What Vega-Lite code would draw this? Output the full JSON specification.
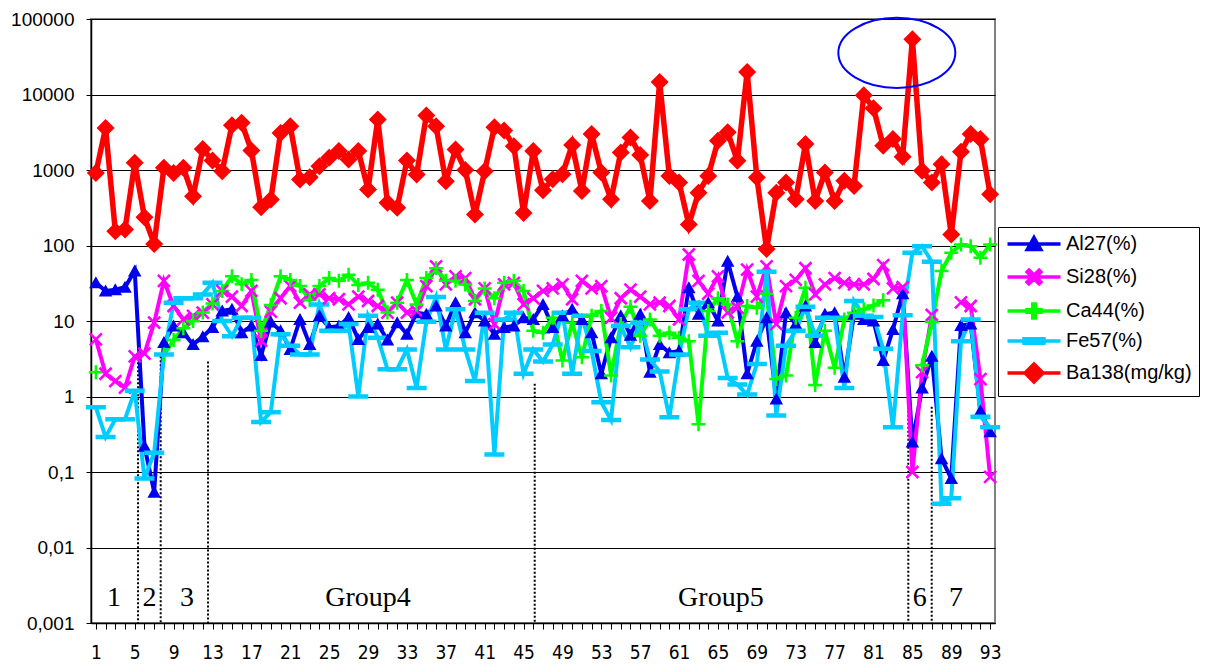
{
  "$schema": "https://vega.github.io/schema/vega-lite/v6.json",
  "width": 904,
  "height": 604,
  "autosize": {"type": "none"},
  "padding": {"left": 91, "top": 19, "right": 217, "bottom": 42},
  "background": "white",
  "config": {
    "view": {"stroke": "#808080", "strokeWidth": 2},
    "font": "Liberation Sans"
  },
  "data": {
    "values": [
      {"n": 1, "Al": 32, "Si": 5.7, "Ca": 2.1, "Fe": 0.72, "Ba": 915},
      {"n": 2, "Al": 25, "Si": 2.0, "Ca": null, "Fe": 0.29, "Ba": 3600},
      {"n": 3, "Al": 26, "Si": 1.6, "Ca": null, "Fe": 0.5, "Ba": 155},
      {"n": 4, "Al": 28, "Si": 1.31, "Ca": null, "Fe": 0.5, "Ba": 163},
      {"n": 5, "Al": 46, "Si": 3.4, "Ca": null, "Fe": 1.19, "Ba": 1245},
      {"n": 6, "Al": 0.22, "Si": 3.7, "Ca": null, "Fe": 0.082, "Ba": 237},
      {"n": 7, "Al": 0.054, "Si": 9.5, "Ca": null, "Fe": 0.18, "Ba": 105},
      {"n": 8, "Al": 5.2, "Si": 34, "Ca": 3.6, "Fe": 3.6, "Ba": 1070},
      {"n": 9, "Al": 8.6, "Si": 15.8, "Ca": 5.6, "Fe": 17.5, "Ba": 915},
      {"n": 10, "Al": 7.0, "Si": 10.5, "Ca": 8, "Fe": 20, "Ba": 1070},
      {"n": 11, "Al": 4.9, "Si": 11.7, "Ca": 10, "Fe": 20, "Ba": 450},
      {"n": 12, "Al": 6.2, "Si": 12.9, "Ca": 13, "Fe": 22.5, "Ba": 1900},
      {"n": 13, "Al": 8.2, "Si": 16.6, "Ca": 17, "Fe": 32, "Ba": 1335},
      {"n": 14, "Al": 13.6, "Si": 25, "Ca": 25, "Fe": 10, "Ba": 965},
      {"n": 15, "Al": 14.3, "Si": 21, "Ca": 39, "Fe": 6.3, "Ba": 3925},
      {"n": 16, "Al": 7.0, "Si": 15.8, "Ca": 30.6, "Fe": 11, "Ba": 4220},
      {"n": 17, "Al": 8.6, "Si": 25, "Ca": 35, "Fe": 11, "Ba": 1810},
      {"n": 18, "Al": 3.5, "Si": 5.5, "Ca": 7.4, "Fe": 0.46, "Ba": 322},
      {"n": 19, "Al": 9.7, "Si": 13.3, "Ca": 16.3, "Fe": 0.62, "Ba": 407},
      {"n": 20, "Al": 7.4, "Si": 20, "Ca": 39, "Fe": 6.7, "Ba": 3100},
      {"n": 21, "Al": 4.2, "Si": 29, "Ca": 35, "Fe": 4.7, "Ba": 3800},
      {"n": 22, "Al": 10.5, "Si": 17.5, "Ca": 29, "Fe": 3.6, "Ba": 748},
      {"n": 23, "Al": 4.9, "Si": 22.5, "Ca": 19, "Fe": 3.6, "Ba": 803},
      {"n": 24, "Al": 11.7, "Si": 22.5, "Ca": 29, "Fe": 16.6, "Ba": 1125},
      {"n": 25, "Al": 8.2, "Si": 20, "Ca": 37, "Fe": 7.4, "Ba": 1450},
      {"n": 26, "Al": 8.6, "Si": 19.4, "Ca": 34, "Fe": 7.4, "Ba": 1780},
      {"n": 27, "Al": 11.1, "Si": 16.6, "Ca": 41, "Fe": 9.1, "Ba": 1380},
      {"n": 28, "Al": 5.7, "Si": 21, "Ca": 30, "Fe": 1.0, "Ba": 1780},
      {"n": 29, "Al": 8.2, "Si": 18.4, "Ca": 32, "Fe": 11.7, "Ba": 552},
      {"n": 30, "Al": 9.1, "Si": 15.8, "Ca": 26, "Fe": 6.0, "Ba": 4670},
      {"n": 31, "Al": 5.6, "Si": 12.9, "Ca": 13, "Fe": 2.3, "Ba": 367},
      {"n": 32, "Al": 9.5, "Si": 17.5, "Ca": 17.5, "Fe": 2.3, "Ba": 316},
      {"n": 33, "Al": 6.7, "Si": 12.9, "Ca": 35, "Fe": 4.2, "Ba": 1335},
      {"n": 34, "Al": 12.9, "Si": 13.6, "Ca": 16.6, "Fe": 1.3, "Ba": 870},
      {"n": 35, "Al": 12.3, "Si": 29, "Ca": 37, "Fe": 9.8, "Ba": 5260},
      {"n": 36, "Al": 15.8, "Si": 53, "Ca": 50, "Fe": 20.8, "Ba": 3800},
      {"n": 37, "Al": 8.6, "Si": 30.5, "Ca": 34, "Fe": 4.2, "Ba": 710},
      {"n": 38, "Al": 17.5, "Si": 39, "Ca": 34, "Fe": 14.3, "Ba": 1870},
      {"n": 39, "Al": 7.0, "Si": 37, "Ca": 30.5, "Fe": 4.2, "Ba": 1000},
      {"n": 40, "Al": 12.9, "Si": 19.4, "Ca": 18.4, "Fe": 1.6, "Ba": 258},
      {"n": 41, "Al": 10, "Si": 27, "Ca": 27, "Fe": 12.9, "Ba": 965},
      {"n": 42, "Al": 6.7, "Si": 9.1, "Ca": 20, "Fe": 0.17, "Ba": 3690},
      {"n": 43, "Al": 8.2, "Si": 30.5, "Ca": 32, "Fe": 10.5, "Ba": 3330},
      {"n": 44, "Al": 8.6, "Si": 32, "Ca": 34, "Fe": 12.9, "Ba": 2070},
      {"n": 45, "Al": 11, "Si": 16.6, "Ca": 25, "Fe": 2.0, "Ba": 270},
      {"n": 46, "Al": 10.5, "Si": 20, "Ca": 7.4, "Fe": 4.2, "Ba": 1790},
      {"n": 47, "Al": 16.6, "Si": 25, "Ca": 7.0, "Fe": 2.9, "Ba": 540},
      {"n": 48, "Al": 8.2, "Si": 27, "Ca": 11, "Fe": 4.9, "Ba": 755},
      {"n": 49, "Al": 11.7, "Si": 30.5, "Ca": 3.0, "Fe": 12.9, "Ba": 880},
      {"n": 50, "Al": 14.3, "Si": 19.4, "Ca": 9.5, "Fe": 2.0, "Ba": 2140},
      {"n": 51, "Al": 10.5, "Si": 34, "Ca": 3.3, "Fe": 11.7, "Ba": 528},
      {"n": 52, "Al": 7.0, "Si": 27, "Ca": 11.7, "Fe": 4.0, "Ba": 3000},
      {"n": 53, "Al": 2.0, "Si": 29, "Ca": 13.6, "Fe": 0.84, "Ba": 926},
      {"n": 54, "Al": 6.0, "Si": 11, "Ca": 1.9, "Fe": 0.49, "Ba": 409},
      {"n": 55, "Al": 11.7, "Si": 20, "Ca": 9.1, "Fe": 8.6, "Ba": 1710},
      {"n": 56, "Al": 6.5, "Si": 26, "Ca": 15.5, "Fe": 4.5, "Ba": 2700},
      {"n": 57, "Al": 12.3, "Si": 21, "Ca": 6.4, "Fe": 9.5, "Ba": 1575},
      {"n": 58, "Al": 2.1, "Si": 16.6, "Ca": 10.5, "Fe": 3.1, "Ba": 389},
      {"n": 59, "Al": 4.9, "Si": 17.5, "Ca": 6.4, "Fe": 2.15, "Ba": 14600},
      {"n": 60, "Al": 3.8, "Si": 15.8, "Ca": 7.0, "Fe": 0.53, "Ba": 835},
      {"n": 61, "Al": 4.0, "Si": 10.5, "Ca": 6, "Fe": 3.6, "Ba": 682},
      {"n": 62, "Al": 27.6, "Si": 76, "Ca": 5.4, "Fe": 14.3, "Ba": 190},
      {"n": 63, "Al": 12.3, "Si": 34, "Ca": 0.43, "Fe": 17.5, "Ba": 500},
      {"n": 64, "Al": 17.5, "Si": 23, "Ca": 13.6, "Fe": 6.4, "Ba": 835},
      {"n": 65, "Al": 10, "Si": 39, "Ca": 20, "Fe": 7.0, "Ba": 2440},
      {"n": 66, "Al": 62, "Si": 13, "Ca": 16.6, "Fe": 1.76, "Ba": 3160},
      {"n": 67, "Al": 21, "Si": 15, "Ca": 5.4, "Fe": 1.44, "Ba": 1325},
      {"n": 68, "Al": 2.0, "Si": 48, "Ca": 15.8, "Fe": 1.06, "Ba": 19800},
      {"n": 69, "Al": 5.4, "Si": 21, "Ca": 15, "Fe": 2.7, "Ba": 795},
      {"n": 70, "Al": 11, "Si": 53, "Ca": 23, "Fe": 45, "Ba": 90},
      {"n": 71, "Al": 0.93, "Si": 9.1, "Ca": 1.7, "Fe": 0.56, "Ba": 500},
      {"n": 72, "Al": 12.9, "Si": 29, "Ca": 1.9, "Fe": 4.7, "Ba": 682},
      {"n": 73, "Al": 9.1, "Si": 35, "Ca": 11, "Fe": 7.4, "Ba": 409},
      {"n": 74, "Al": 15.8, "Si": 50, "Ca": 27.6, "Fe": 15.4, "Ba": 2210},
      {"n": 75, "Al": 5.2, "Si": 22.5, "Ca": 1.42, "Fe": 6.4, "Ba": 389},
      {"n": 76, "Al": 12.3, "Si": 30.5, "Ca": 7.4, "Fe": 11, "Ba": 926},
      {"n": 77, "Al": 12.9, "Si": 37, "Ca": 2.4, "Fe": 11, "Ba": 389},
      {"n": 78, "Al": 1.8, "Si": 32, "Ca": 10.5, "Fe": 1.3, "Ba": 718},
      {"n": 79, "Al": 12.3, "Si": 30.5, "Ca": 12.9, "Fe": 18.4, "Ba": 616},
      {"n": 80, "Al": 10.5, "Si": 30.5, "Ca": 14.3, "Fe": 11.7, "Ba": 9800},
      {"n": 81, "Al": 10, "Si": 36, "Ca": 16, "Fe": 11.3, "Ba": 6580},
      {"n": 82, "Al": 3.0, "Si": 55, "Ca": 18.8, "Fe": 4.3, "Ba": 2100},
      {"n": 83, "Al": 7.7, "Si": 27, "Ca": null, "Fe": 0.39, "Ba": 2570},
      {"n": 84, "Al": 23, "Si": 28, "Ca": null, "Fe": 11.9, "Ba": 1500},
      {"n": 85, "Al": 0.25, "Si": 0.1, "Ca": null, "Fe": 80, "Ba": 54000},
      {"n": 86, "Al": 1.3, "Si": 2.1, "Ca": 2.6, "Fe": 98, "Ba": 975},
      {"n": 87, "Al": 3.4, "Si": 12, "Ca": 9.7, "Fe": 61, "Ba": 682},
      {"n": 88, "Al": 0.15, "Si": null, "Ca": 46, "Fe": 0.038, "Ba": 1195},
      {"n": 89, "Al": 0.082, "Si": null, "Ca": 80, "Fe": 0.045, "Ba": 140},
      {"n": 90, "Al": 8.7, "Si": 17.6, "Ca": 103, "Fe": 5.4, "Ba": 1745},
      {"n": 91, "Al": 9.1, "Si": 15.8, "Ca": 98, "Fe": 10.5, "Ba": 3000},
      {"n": 92, "Al": 0.65, "Si": 1.7, "Ca": 69, "Fe": 0.54, "Ba": 2570},
      {"n": 93, "Al": 0.34, "Si": 0.086, "Ca": 103, "Fe": 0.39, "Ba": 478}
    ]
  },
  "encoding": {
    "x": {
      "field": "n",
      "type": "quantitative",
      "scale": {"domain": [0.5, 93.5], "nice": false, "zero": false},
      "axis": {
        "title": null,
        "values": [1,2,3,4,5,6,7,8,9,10,11,12,13,14,15,16,17,18,19,20,21,22,23,24,25,26,27,28,29,30,31,32,33,34,35,36,37,38,39,40,41,42,43,44,45,46,47,48,49,50,51,52,53,54,55,56,57,58,59,60,61,62,63,64,65,66,67,68,69,70,71,72,73,74,75,76,77,78,79,80,81,82,83,84,85,86,87,88,89,90,91,92,93],
        "labelExpr": "(datum.value - 1) % 4 === 0 ? datum.label : ''",
        "labelOverlap": false,
        "labelFlush": false,
        "grid": false,
        "domainColor": "#000000",
        "domainWidth": 1.5,
        "tickColor": "#000000",
        "tickSize": 6,
        "labelFont": "'Liberation Sans Narrow', 'DejaVu Sans Condensed', sans-serif",
        "labelFontSize": 19,
        "labelColor": "#000000",
        "labelPadding": 14
      }
    },
    "y": {
      "field": "v",
      "type": "quantitative",
      "scale": {"type": "log", "domain": [0.001, 100000], "nice": false},
      "axis": {
        "title": null,
        "values": [0.001, 0.01, 0.1, 1, 10, 100, 1000, 10000, 100000],
        "labelExpr": "replace(format(datum.value, '~f'), '.', ',')",
        "labelOverlap": false,
        "grid": true,
        "gridColor": "#000000",
        "gridWidth": 1,
        "domainColor": "#000000",
        "domainWidth": 1.5,
        "tickColor": "#000000",
        "tickSize": 5,
        "labelFont": "Liberation Sans",
        "labelFontSize": 19,
        "labelColor": "#000000",
        "labelPadding": 12
      }
    }
  },
  "layer": [
    {
      "data": {
        "values": [
          {"n": 5.34, "v": 2.85},
          {"n": 7.67, "v": 3.4},
          {"n": 12.54, "v": 2.9},
          {"n": 46.15, "v": 1.48},
          {"n": 84.58, "v": 0.73},
          {"n": 86.99, "v": 0.73}
        ]
      },
      "mark": {"type": "rule", "color": "#000000", "strokeWidth": 2, "strokeDash": [2, 2]},
      "encoding": {"y2": {"datum": 0.001}}
    },
    {
      "transform": [
        {"fold": ["Al", "Si", "Ca", "Fe", "Ba"], "as": ["key", "v"]},
        {"filter": "datum.key != 'Ba'"}
      ],
      "mark": {"type": "line", "strokeWidth": 4, "invalid": "break-paths-filter-domains"},
      "encoding": {
        "color": {
          "field": "key",
          "type": "nominal",
          "scale": {
            "domain": ["Al", "Si", "Ca", "Fe", "Ba"],
            "range": ["#0000ee", "#ff00ff", "#00ff00", "#00ccff", "#ff0000"]
          },
          "legend": {
            "title": null,
            "orient": "none",
            "legendX": 907,
            "legendY": 208,
            "direction": "vertical",
            "labelExpr": "datum.label == 'Al' ? 'Al27(%)' : datum.label == 'Si' ? 'Si28(%)' : datum.label == 'Ca' ? 'Ca44(%)' : datum.label == 'Fe' ? 'Fe57(%)' : 'Ba138(mg/kg)'",
            "labelFont": "Liberation Sans",
            "labelFontSize": 20,
            "labelColor": "#000000",
            "labelLimit": 300,
            "symbolSize": 100,
            "symbolStrokeWidth": 3.5,
            "symbolOffset": 19,
            "labelOffset": 22,
            "rowPadding": 6,
            "padding": 7,
            "strokeColor": "#000000",
            "fillColor": "#ffffff"
          }
        }
      }
    },
    {
      "transform": [
        {"fold": ["Al", "Si", "Ca", "Fe", "Ba"], "as": ["key", "v"]},
        {"filter": {"field": "key", "oneOf": ["Al", "Si", "Ca", "Fe"]}}
      ],
      "mark": {"type": "point", "filled": true, "opacity": 1, "size": 100},
      "encoding": {
        "color": {"field": "key", "type": "nominal", "legend": null},
        "shape": {
          "field": "key",
          "type": "nominal",
          "scale": {
            "domain": ["Al", "Si", "Ca", "Fe", "Ba"],
            "range": [
              "M-5.3,0H5.3M0,-1.3L1.35,1.1L-1.35,1.1Z",
              "M-5.3,0H5.3M-1.02,-1.38L1.38,1.02L1.02,1.38L-1.38,-1.02ZM-1.38,1.02L1.02,-1.38L1.38,-1.02L-1.02,1.38Z",
              "M-5.3,0H5.3M-1.4,-0.25H1.4V0.25H-1.4ZM-0.25,-1.4H0.25V1.4H-0.25Z",
              "M-5.3,0H5.3M-2,-0.45H2V0.45H-2Z",
              "M-5.3,0H5.3M0,-1.8L1.8,0L0,1.8L-1.8,0Z"
            ]
          },
          "legend": null
        }
      }
    },
    {
      "transform": [
        {"fold": ["Al", "Si", "Ca", "Fe", "Ba"], "as": ["key", "v"]},
        {"filter": "datum.key == 'Ba'"}
      ],
      "mark": {"type": "line", "strokeWidth": 5.5},
      "encoding": {
        "color": {"field": "key", "type": "nominal", "legend": null}
      }
    },
    {
      "transform": [
        {"fold": ["Al", "Si", "Ca", "Fe", "Ba"], "as": ["key", "v"]},
        {"filter": "datum.key == 'Ba'"}
      ],
      "mark": {"type": "point", "filled": true, "opacity": 1, "size": 100},
      "encoding": {
        "color": {"field": "key", "type": "nominal", "legend": null},
        "shape": {"field": "key", "type": "nominal", "legend": null}
      }
    },
    {
      "data": {"values": [{"n": 83.4, "v": 35600}]},
      "mark": {
        "type": "point",
        "shape": "M-1,0A1,0.6,0,1,0,1,0A1,0.6,0,1,0,-1,0Z",
        "size": 13689,
        "filled": false,
        "stroke": "#0000ff",
        "strokeWidth": 2,
        "opacity": 1
      }
    },
    {
      "data": {
        "values": [
          {"n": 2.87, "v": 0.00214, "t": "1"},
          {"n": 6.53, "v": 0.00214, "t": "2"},
          {"n": 10.37, "v": 0.00214, "t": "3"},
          {"n": 29.0, "v": 0.00214, "t": "Group4"},
          {"n": 65.3, "v": 0.00214, "t": "Group5"},
          {"n": 85.76, "v": 0.00214, "t": "6"},
          {"n": 89.5, "v": 0.00214, "t": "7"}
        ]
      },
      "mark": {"type": "text", "font": "Liberation Serif", "fontSize": 28, "color": "#000000", "align": "center", "baseline": "middle"},
      "encoding": {"text": {"field": "t"}}
    }
  ]
}
